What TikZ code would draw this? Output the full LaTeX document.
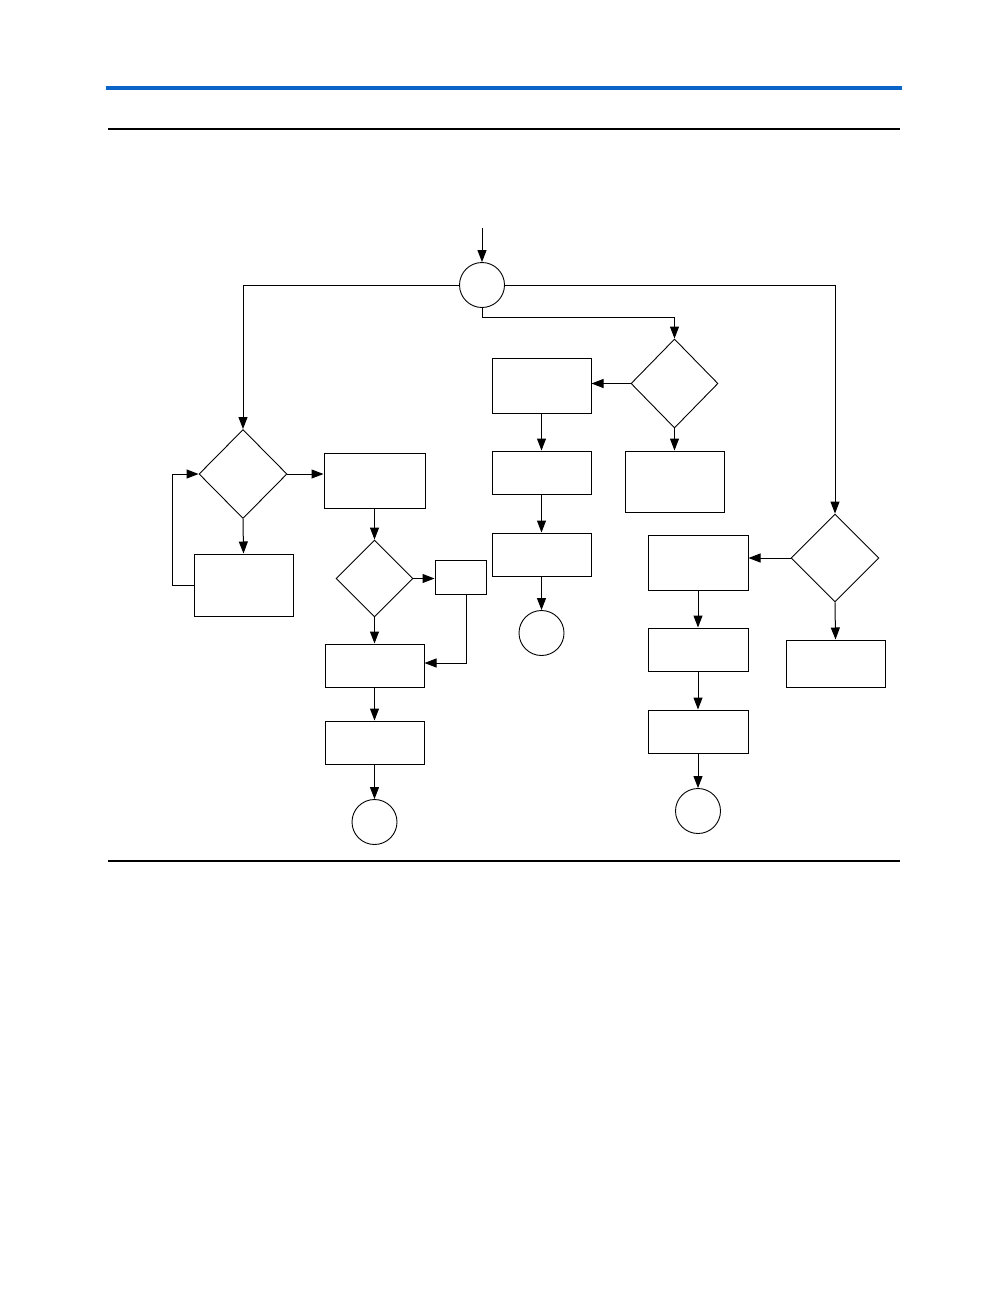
\documentclass[tikz,border=0pt]{standalone}
\usetikzlibrary{shapes.geometric,arrows.meta}
\definecolor{barblue}{RGB}{10,100,200}
\begin{document}
\begin{tikzpicture}[x=1pt,y=-1pt,
  every path/.style={line width=1pt},
  box/.style={draw,rectangle,inner sep=0pt},
  dec/.style={draw,diamond,inner sep=0pt,line width=0.9pt},
  term/.style={draw,circle,inner sep=0pt,minimum size=45pt,line width=0.9pt},
  arr/.style={-{Triangle[length=12pt,width=9pt]}}]
\useasboundingbox (0,0) rectangle (1008,1296);
% rules
\fill[barblue] (106,86) rectangle (902,90);
\draw[line width=1.2pt] (108,129) -- (900,129);
\draw[line width=1.2pt] (108,861) -- (900,861);
% nodes
\coordinate (start) at (482,228);
\node[term] (C1) at (482,285) {};
\node[dec,minimum width=88pt,minimum height=89pt] (D1) at (243,474) {};
\node[box,minimum width=101pt,minimum height=55pt] (B1) at (374.5,480.5) {};
\node[box,minimum width=99pt,minimum height=62pt] (B2) at (243.5,585) {};
\node[dec,minimum width=77pt,minimum height=77pt] (D2) at (374.5,578.5) {};
\node[box,minimum width=51pt,minimum height=34pt] (B3) at (460.5,577) {};
\node[box,minimum width=99pt,minimum height=43pt] (B4) at (374.5,665.5) {};
\node[box,minimum width=99pt,minimum height=43pt] (B5) at (374.5,742.5) {};
\node[term] (C2) at (374.5,822) {};
\node[dec,minimum width=87pt,minimum height=89pt] (D3) at (674.5,383.5) {};
\node[box,minimum width=99pt,minimum height=55pt] (B6) at (541.5,385.5) {};
\node[box,minimum width=99pt,minimum height=43pt] (B7) at (541.5,472.5) {};
\node[box,minimum width=99pt,minimum height=43pt] (B8) at (541.5,554.5) {};
\node[term] (C3) at (541.5,633) {};
\node[box,minimum width=99pt,minimum height=61pt] (B9) at (674.5,481.5) {};
\node[dec,minimum width=88pt,minimum height=88pt] (D4) at (835,558) {};
\node[box,minimum width=100pt,minimum height=55pt] (B10) at (698,562.5) {};
\node[box,minimum width=99pt,minimum height=47pt] (B11) at (835.5,663.5) {};
\node[box,minimum width=100pt,minimum height=43pt] (B12) at (698,649.5) {};
\node[box,minimum width=100pt,minimum height=43pt] (B13) at (698,731.5) {};
\node[term] (C4) at (698,811) {};
% connectors
\draw[arr] (start) -- (C1.north);
\draw[arr] (C1.west) -| (D1.north);
\draw[arr] (C1.east) -| (D4.north);
\draw[arr] (C1.south) -- ++(0,10) -| (D3.north);
\draw[arr] (D1.east) -- (D1.east -| B1.west);
\draw[arr] (D1.south) -- (B2.north);
\draw[arr] (B2.west) -- ++(-21,0) |- (D1.west);
\draw[arr] (B1.south) -- (D2.north);
\draw[arr] (D2.east) -- (D2.east -| B3.west);
\draw[arr] ([xshift=5.5pt]B3.south) |- ([yshift=2.5pt]B4.east);
\draw[arr] (D2.south) -- (B4.north);
\draw[arr] (B4.south) -- (B5.north);
\draw[arr] (B5.south) -- (C2.north);
\draw[arr] (D3.west) -- (D3.west -| B6.east);
\draw[arr] (D3.south) -- (B9.north);
\draw[arr] (B6.south) -- (B7.north);
\draw[arr] (B7.south) -- (B8.north);
\draw[arr] (B8.south) -- (C3.north);
\draw[arr] (D4.west) -- (D4.west -| B10.east);
\draw[arr] (D4.south) -- (B11.north);
\draw[arr] (B10.south) -- (B12.north);
\draw[arr] (B12.south) -- (B13.north);
\draw[arr] (B13.south) -- (C4.north);
\end{tikzpicture}
\end{document}
